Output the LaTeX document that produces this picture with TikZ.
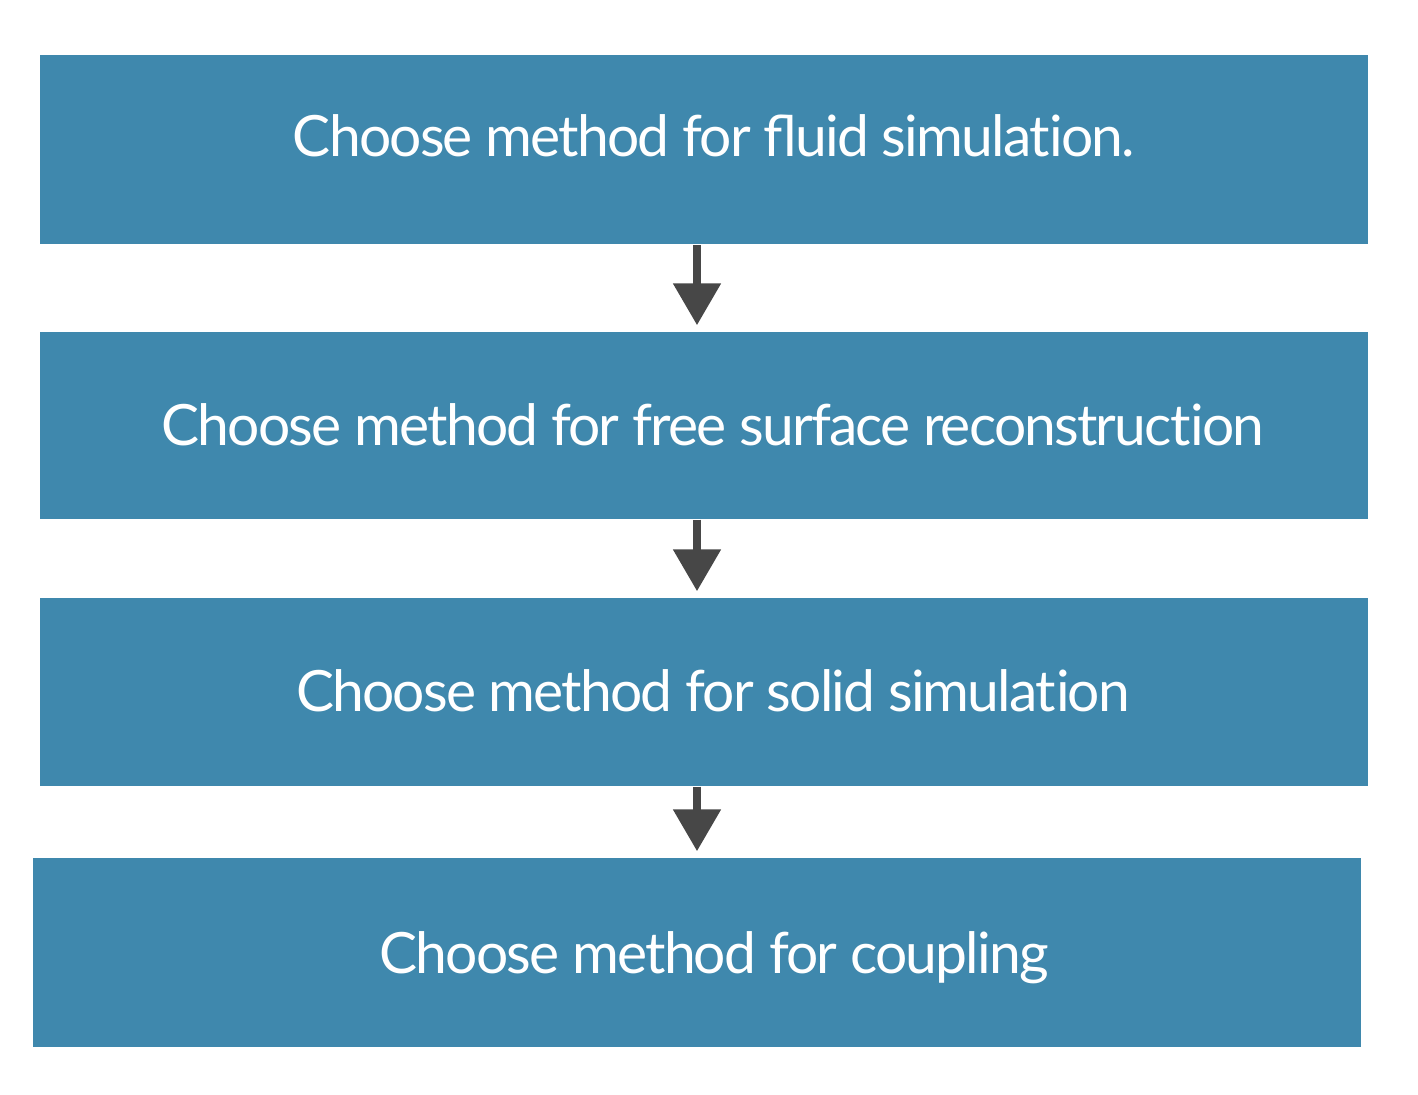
\documentclass[tikz,border=0pt]{standalone}
\usepackage{fontspec}
\setmainfont[LetterSpace=-3.2]{Lato}
\usepackage{tikz}
\usetikzlibrary{arrows.meta}

\definecolor{boxblue}{HTML}{3F88AD}
\definecolor{arrowgray}{HTML}{474747}

\tikzset{
    stepbox/.style={fill=boxblue, inner sep=0pt,
        minimum width=13.28cm, minimum height=1.89cm},
    steptext/.style={text=white, inner sep=0pt, anchor=base,
        font=\fontsize{16.2}{20}\selectfont},
    flow/.style={arrowgray, line width=0.085cm,
        -{Triangle[width=0.46cm,length=0.42cm]}, shorten >=0.06cm}
}

\begin{document}
\begin{tikzpicture}
    \useasboundingbox (0,0) rectangle (14.18,10.94);

    \node[stepbox] (fluid) at (7.04,9.44) {};
    \node[stepbox, minimum height=1.87cm] (surface) at (7.04,6.685) {};
    \node[stepbox, minimum height=1.88cm] (solid) at (7.04,4.02) {};
    \node[stepbox] (coupling) at (6.965,1.415) {};

    % labels sit a little right of the box centres
    \node[steptext] (fluidtext) at (7.14,9.37) {Choose method for fluid simulat\kern0pt ion.};
    \node[steptext] (surfacetext) at (7.13,6.48) {Choose method for free surface reconstruct\kern0pt ion};
    \node[steptext] (solidtext) at (7.13,3.82) {Choose method for solid simulat\kern0pt ion};
    \node[steptext] (couplingtext) at (7.14,1.21) {Choose method for coupling};

    % arrows sit a little left of the box centres
    \coordinate (axis) at (6.97,0);
    \draw[flow] (fluid.south -| axis) -- (surface.north -| axis);
    \draw[flow] (surface.south -| axis) -- (solid.north -| axis);
    \draw[flow] (solid.south -| axis) -- (coupling.north -| axis);

\end{tikzpicture}
\end{document}
